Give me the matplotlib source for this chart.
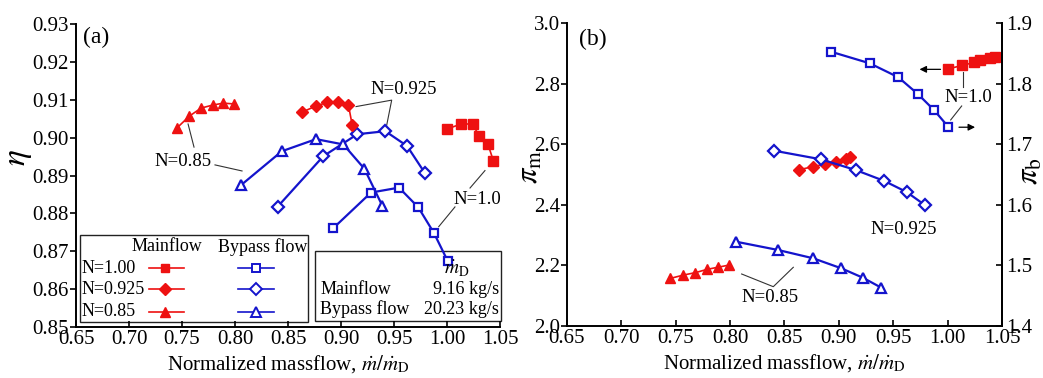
import numpy as np
import matplotlib
matplotlib.use('Agg')
import matplotlib.pyplot as plt
from matplotlib.patches import Rectangle

plt.rcParams['font.family'] = 'serif'
plt.rcParams['font.serif'] = ['Liberation Serif', 'DejaVu Serif']
plt.rcParams['mathtext.fontset'] = 'stix'

# normalized massflow at each operating point
x_main_100 = [1.000, 1.0135, 1.0245, 1.030, 1.0387, 1.0437]
x_main_0925 = [0.863, 0.876, 0.887, 0.8975, 0.907, 0.9105]
x_main_085 = [0.745, 0.757, 0.768, 0.779, 0.789, 0.799]
x_byp_100 = [0.8927, 0.9283, 0.9547, 0.9729, 0.9877, 1.0007]
x_byp_0925 = [0.8403, 0.8833, 0.9154, 0.9418, 0.9623, 0.9790]
x_byp_085 = [0.8054, 0.8441, 0.8764, 0.9022, 0.9220, 0.9390]

# (a) isentropic efficiency
eta_main_100 = [0.9023, 0.9036, 0.9036, 0.9004, 0.8982, 0.8939]
eta_main_0925 = [0.9067, 0.9083, 0.9093, 0.9095, 0.9086, 0.9034]
eta_main_085 = [0.9025, 0.9057, 0.9078, 0.9086, 0.9091, 0.9089]
eta_byp_100 = [0.8761, 0.8855, 0.8868, 0.8816, 0.8748, 0.8674]
eta_byp_0925 = [0.8818, 0.8951, 0.9009, 0.9017, 0.8978, 0.8907]
eta_byp_085 = [0.8874, 0.8964, 0.8996, 0.8982, 0.8918, 0.8820]

# (b) pressure ratios
pi_main_100 = [2.848, 2.860, 2.870, 2.877, 2.883, 2.888]
pi_main_0925 = [2.515, 2.526, 2.534, 2.542, 2.550, 2.559]
pi_main_085 = [2.157, 2.168, 2.176, 2.187, 2.194, 2.201]
pi_byp_100 = [1.8526, 1.8335, 1.8104, 1.7823, 1.7559, 1.7284]
pi_byp_0925 = [1.6893, 1.6751, 1.6574, 1.6393, 1.6210, 1.5997]
pi_byp_085 = [1.5391, 1.5254, 1.5117, 1.4952, 1.4797, 1.4632]

speeds = ['N=1.00', 'N=0.925', 'N=0.85']
mdot_main = '9.16 kg/s'
mdot_byp = '20.23 kg/s'

red = '#ee1111'
blue = '#1414cc'
ann = '#333333'
mk = ['s', 'D', '^']
ms_red = [6.5, 6.5, 7.5]
ms_blue = [6, 6, 7]

xlab = r'Normalized massflow, $\dot{m}/\dot{m}_\mathrm{D}$'

fig = plt.figure(figsize=(10.43, 3.78), dpi=100)
ax1 = fig.add_axes([0.0729, 0.1349, 0.4065, 0.8016])
ax2 = fig.add_axes([0.5436, 0.1376, 0.4171, 0.8016])
ax3 = ax2.twinx()

def style(ax, right=False):
    ax.spines['top'].set_visible(False)
    ax.spines['right'].set_visible(right)
    for s in ax.spines.values():
        s.set_linewidth(1.4)
    ax.tick_params(axis='x', direction='in', length=4, width=1.2, pad=2, labelsize=15)
    ax.tick_params(axis='y', direction='out', length=4, width=1.2, pad=1, labelsize=15)

# ---- (a) efficiency ----
main_a = [(x_main_100, eta_main_100), (x_main_0925, eta_main_0925), (x_main_085, eta_main_085)]
byp_a = [(x_byp_100, eta_byp_100), (x_byp_0925, eta_byp_0925), (x_byp_085, eta_byp_085)]
for i in range(3):
    ax1.plot(*main_a[i], color=red, lw=1.2, marker=mk[i], ms=ms_red[i], mfc=red, mec=red, zorder=4)
    ax1.plot(*byp_a[i], color=blue, lw=1.6, marker=mk[i], ms=ms_blue[i], mfc='white', mec=blue,
             mew=1.6, zorder=3)

ax1.set_xlim(0.65, 1.05)
ax1.set_ylim(0.85, 0.93)
ax1.set_xticks(np.arange(0.65, 1.051, 0.05))
ax1.set_yticks(np.arange(0.85, 0.931, 0.01))
ax1.xaxis.set_major_formatter(plt.FormatStrFormatter('%.2f'))
ax1.yaxis.set_major_formatter(plt.FormatStrFormatter('%.2f'))
style(ax1)
ax1.set_xlabel(xlab, fontsize=15, labelpad=3)
ax1.set_ylabel(r'$\eta$', fontsize=24)
ax1.yaxis.set_label_coords(-0.100, 0.56)
ax1.text(0.017, 0.955, '(a)', transform=ax1.transAxes, fontsize=17, va='center')

# speed-line labels
ax1.text(0.751, 0.8936, 'N=0.85', fontsize=13.5, ha='center', va='center')
ax1.plot([0.7613, 0.7557], [0.8975, 0.9036], color=ann, lw=0.8)
ax1.plot([0.7811, 0.8066], [0.8928, 0.8912], color=ann, lw=0.8)
ax1.text(0.9592, 0.9128, 'N=0.925', fontsize=13.5, ha='center', va='center')
ax1.plot([0.9142, 0.9478, 0.9431], [0.9082, 0.9099, 0.9033], color=ann, lw=0.8)
ax1.text(1.029, 0.8837, 'N=1.0', fontsize=13.5, ha='center', va='center')
ax1.plot([1.0217, 1.0358], [0.8867, 0.8913], color=ann, lw=0.8)
ax1.plot([1.0075, 0.9922], [0.8817, 0.8765], color=ann, lw=0.8)

# key for mainflow / bypass flow
ax1.add_patch(Rectangle((0.0094, 0.0165), 0.5376, 0.2871, transform=ax1.transAxes,
                        fc='white', ec='#222222', lw=1.0, zorder=1))
ax1.text(0.214, 0.265, 'Mainflow', transform=ax1.transAxes, fontsize=13, ha='center', va='center')
ax1.text(0.440, 0.265, 'Bypass flow', transform=ax1.transAxes, fontsize=13, ha='center', va='center')
rows = [0.194, 0.1254, 0.0505]
for i, y in enumerate(rows):
    ax1.text(0.0125, y, speeds[i], transform=ax1.transAxes, fontsize=13, ha='left', va='center')
    ax1.plot([0.171, 0.255], [y, y], transform=ax1.transAxes, color=red, lw=1.2, zorder=2)
    ax1.plot([0.2106], [y], transform=ax1.transAxes, color=red, marker=mk[i], ms=ms_red[i] - 0.5,
             ls='none', zorder=2)
    ax1.plot([0.382, 0.468], [y, y], transform=ax1.transAxes, color=blue, lw=1.2, zorder=2)
    ax1.plot([0.4245], [y], transform=ax1.transAxes, color=blue, marker=mk[i], ms=ms_blue[i],
             mfc='white', mec=blue, mew=1.4, ls='none', zorder=2)

# design massflow box
ax1.add_patch(Rectangle((0.5637, 0.0198), 0.4387, 0.231, transform=ax1.transAxes,
                        fc='none', ec='#222222', lw=1.0, zorder=1, clip_on=False))
ax1.text(0.897, 0.191, r'$\dot{m}_\mathrm{D}$', transform=ax1.transAxes, fontsize=14,
         ha='center', va='center')
ax1.text(0.5755, 0.1254, 'Mainflow', transform=ax1.transAxes, fontsize=13, va='center')
ax1.text(0.9976, 0.1254, mdot_main, transform=ax1.transAxes, fontsize=13, va='center', ha='right')
ax1.text(0.5755, 0.0594, 'Bypass flow', transform=ax1.transAxes, fontsize=13, va='center')
ax1.text(0.9976, 0.0594, mdot_byp, transform=ax1.transAxes, fontsize=13, va='center', ha='right')

# ---- (b) pressure ratio ----
main_b = [(x_main_100, pi_main_100), (x_main_0925, pi_main_0925), (x_main_085, pi_main_085)]
byp_b = [(x_byp_100, pi_byp_100), (x_byp_0925, pi_byp_0925), (x_byp_085, pi_byp_085)]
for i in range(3):
    ax2.plot(*main_b[i], color=red, lw=1.2, marker=mk[i], ms=ms_red[i], mfc=red, mec=red, zorder=4)
    ax3.plot(*byp_b[i], color=blue, lw=1.6, marker=mk[i], ms=ms_blue[i], mfc='white', mec=blue,
             mew=1.6, zorder=3)

ax2.set_xlim(0.65, 1.05)
ax2.set_ylim(2.0, 3.0)
ax3.set_ylim(1.4, 1.9)
ax2.set_xticks(np.arange(0.65, 1.051, 0.05))
ax2.set_yticks(np.arange(2.0, 3.01, 0.2))
ax3.set_yticks(np.arange(1.4, 1.91, 0.1))
ax2.xaxis.set_major_formatter(plt.FormatStrFormatter('%.2f'))
ax2.yaxis.set_major_formatter(plt.FormatStrFormatter('%.1f'))
ax3.yaxis.set_major_formatter(plt.FormatStrFormatter('%.1f'))
style(ax2, right=True)
style(ax3, right=True)
ax3.spines['left'].set_visible(False)
ax3.spines['bottom'].set_visible(False)
ax3.tick_params(axis='y', direction='in', length=4, width=1.2, pad=3, labelsize=15)
ax2.set_xlabel(xlab, fontsize=15, labelpad=3)
ax2.set_ylabel(r'$\pi_\mathrm{m}$', fontsize=22)
ax2.yaxis.set_label_coords(-0.052, 0.525)
ax3.set_ylabel(r'$\pi_\mathrm{b}$', fontsize=22)
ax3.yaxis.set_label_coords(1.032, 0.51)
ax2.text(0.027, 0.945, '(b)', transform=ax2.transAxes, fontsize=17, va='center')

ax2.annotate('', xy=(0.9716, 2.847), xytext=(0.996, 2.847),
             arrowprops=dict(arrowstyle='-|>', color='black', lw=0.9, mutation_scale=10))
ax2.annotate('', xy=(1.0278, 2.656), xytext=(1.0079, 2.656),
             arrowprops=dict(arrowstyle='-|>', color='black', lw=0.9, mutation_scale=10))
ax2.text(1.0192, 2.754, 'N=1.0', fontsize=13.5, ha='center', va='center')
ax2.plot([1.0139, 1.0139], [2.839, 2.788], color=ann, lw=0.8)
ax2.plot([1.0129, 1.0028], [2.726, 2.680], color=ann, lw=0.8)
ax2.text(0.9593, 2.3185, 'N=0.925', fontsize=13.5, ha='center', va='center')
ax2.text(0.8367, 2.094, 'N=0.85', fontsize=13.5, ha='center', va='center')
ax2.plot([0.8106, 0.8397, 0.8581], [2.1716, 2.1297, 2.1937], color=ann, lw=0.8)

fig.savefig('out.png', dpi=100)
